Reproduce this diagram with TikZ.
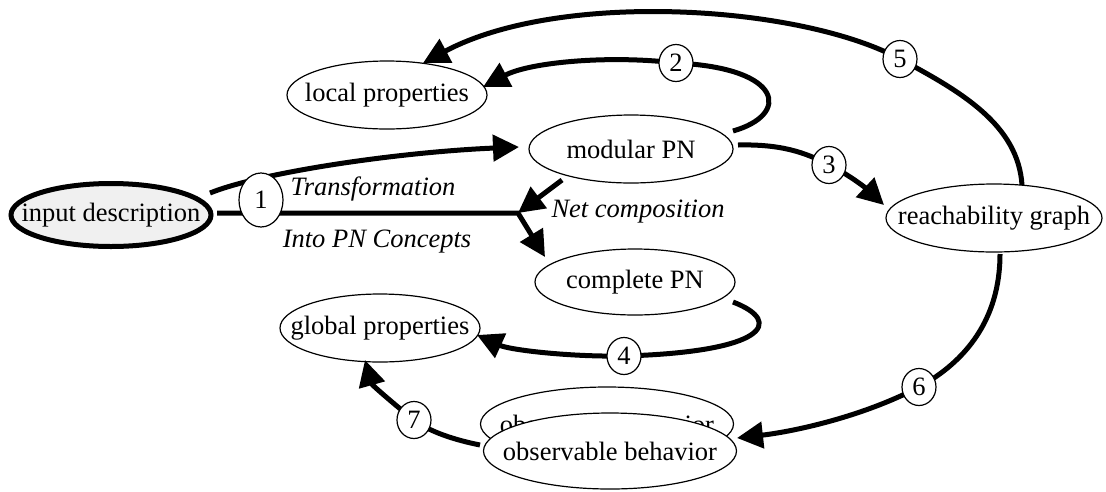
\documentclass[tikz,border=0pt]{standalone}
\usepackage{fontspec}
\setmainfont{Liberation Serif}
\usetikzlibrary{arrows.meta,shapes.geometric}
\tikzset{
  nd/.style={ellipse, draw, line width=1.2pt, fill=white, inner sep=0pt,
    font=\fontsize{26.5pt}{30pt}\selectfont},
  num/.style={ellipse, draw, line width=1.2pt, fill=white, inner sep=0pt,
    minimum width=34pt, minimum height=37pt, font=\fontsize{26.5pt}{30pt}\selectfont},
  conn/.style={line width=5pt, -{Triangle[length=26pt,width=26pt]}},
  lbl/.style={font=\fontsize{26.5pt}{30pt}\selectfont\itshape, inner sep=0pt}
}
\begin{document}
\begin{tikzpicture}[x=1pt,y=-1pt]
\useasboundingbox (0,0) rectangle (1106,491);
% nodes
\node[nd, line width=5pt, fill=gray!12, minimum width=200pt, minimum height=63pt] (inp) at (111,215) {\makebox[0pt]{input description}};
\node[nd, minimum width=200pt, minimum height=68pt] (loc) at (387,95) {\makebox[0pt]{local properties}};
\node[nd, minimum width=204pt, minimum height=68pt] (mod) at (631,149) {\makebox[0pt]{modular PN}};
\node[nd, minimum width=216pt, minimum height=68pt] (rea) at (994,218) {\makebox[0pt]{reachability graph}};
\node[nd, minimum width=200pt, minimum height=66pt] (com) at (635,282) {\makebox[0pt]{complete PN}};
\node[nd, minimum width=200pt, minimum height=68pt] (glo) at (380,328) {\makebox[0pt]{global properties}};
\node[nd, minimum width=253pt, minimum height=74pt] (obsb) at (607,424) {\makebox[0pt]{observable behavior}};
\node[nd, minimum width=253pt, minimum height=76pt] (obs) at (610,451) {\makebox[0pt]{observable behavior}};
% circle positions and junction
\coordinate (c1) at (261,200);
\coordinate (c2) at (676,63);
\coordinate (c3) at (829,165);
\coordinate (c4) at (624,356);
\coordinate (c5) at (900,59);
\coordinate (c6) at (919,387);
\coordinate (c7) at (414,420);
\coordinate (j) at (518,213);
% edges
\draw[conn] ([shift={(99,-22)}]inp.center) .. controls (262,172) and (400,152) .. ([shift={(-112,-2)}]mod.center);
\draw[conn] ([shift={(106,-2)}]inp.center) -- (j) -- ([shift={(-90,-25)}]com.center);
\draw[conn] ([shift={(-69,31)}]mod.center) -- (j);
\draw[conn] ([shift={(102,-18)}]mod.center) .. controls (790,115) and (785,68) .. (c2)
  .. controls (610,55) and (530,62) .. ([shift={(96,-8)}]loc.center);
\draw[conn] ([shift={(107,-4)}]mod.center) .. controls (780,144) and (805,152) .. (c3)
  .. controls (850,175) and (868,190) .. ([shift={(-110,-13)}]rea.center);
\draw[conn] ([shift={(28,-33)}]rea.center) .. controls (1018,125) and (962,92) .. (c5)
  .. controls (800,5) and (560,-10) .. ([shift={(36,-32)}]loc.center);
\draw[conn] ([shift={(6,36)}]rea.center) .. controls (1000,320) and (965,362) .. (c6)
  .. controls (860,418) and (790,432) .. ([shift={(127,-13)}]obs.center);
\draw[conn] ([shift={(98,20)}]com.center) .. controls (785,322) and (765,352) .. (c4)
  .. controls (570,357) and (510,350) .. ([shift={(97,7)}]glo.center);
\draw[conn] ([shift={(-130,-6)}]obs.center) .. controls (455,440) and (430,432) .. (c7)
  .. controls (395,405) and (372,385) .. ([shift={(-15,32)}]glo.center);
% number circles
\node[num, minimum width=44pt, minimum height=54pt] (n1) at (c1) {1};
\node[num] (n2) at (c2) {2};
\node[num] (n3) at (c3) {3};
\node[num] (n4) at (c4) {4};
\node[num] (n5) at (c5) {5};
\node[num] (n6) at (c6) {6};
\node[num] (n7) at (c7) {7};
% labels
\node[lbl] (t1) at (373,189) {Transformation};
\node[lbl] (t2) at (377,242) {Into PN Concepts};
\node[lbl] (t3) at (638,212) {Net composition};
\end{tikzpicture}
\end{document}
